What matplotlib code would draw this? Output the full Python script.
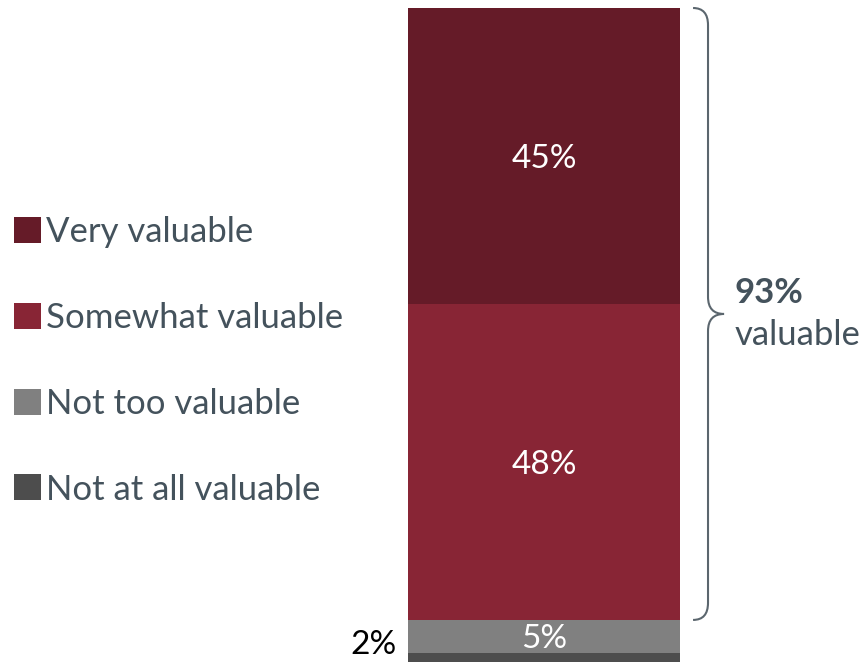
import matplotlib
matplotlib.use("Agg")
import matplotlib.pyplot as plt
from matplotlib.path import Path
from matplotlib.patches import PathPatch
from matplotlib.transforms import blended_transform_factory

plt.rcParams['font.family'] = ['Lato', 'DejaVu Sans']

# stacking order: bottom to top
categories = ["Not at all valuable", "Not too valuable", "Somewhat valuable", "Very valuable"]
values = [2, 5, 48, 45]
colors = ["#4d4d4d", "#808080", "#882535", "#651b28"]
value_labels = ["2%", "5%", "48%", "45%"]
total_label = "93%"
total_text = "valuable"

text_color = "#44525c"

fig = plt.figure(figsize=(8.62, 6.62), dpi=100)
ax = fig.add_axes([408 / 862, -4 / 662, 272 / 862, 658 / 662])

bottom = 0
bars = []
for cat, val, col, lab in zip(categories, values, colors, value_labels):
    b = ax.bar(0, val, bottom=bottom, width=1.0, color=col, label=cat)
    bars.append(b)
    if val >= 5:
        ax.text(0, bottom + val / 2, lab, ha='center', va='center_baseline',
                color='white', fontsize=24)
    else:
        # too thin to hold its label, so put it beside the bar
        ax.text(-0.54, bottom + val / 2 + 2.6, lab, ha='right', va='center_baseline',
                color='black', fontsize=24)
    bottom += val

ax.set_xlim(-0.5, 0.5)
ax.set_ylim(0, 100)
ax.axis('off')

# curly brace over the two "valuable" segments
lo = values[0] + values[1]
hi = sum(values)
mid = (lo + hi) / 2
x0, x1, x2 = 1.048, 1.103, 1.162
r = 2.6
verts = [(x0, hi), (x1, hi), (x1, hi - r),
         (x1, mid + r),
         (x1, mid), (x2, mid),
         (x1, mid), (x1, mid - r),
         (x1, lo + r),
         (x1, lo), (x0, lo)]
codes = [Path.MOVETO, Path.CURVE3, Path.CURVE3,
         Path.LINETO,
         Path.CURVE3, Path.CURVE3,
         Path.CURVE3, Path.CURVE3,
         Path.LINETO,
         Path.CURVE3, Path.CURVE3]
trans = blended_transform_factory(ax.transAxes, ax.transData)
ax.add_patch(PathPatch(Path(verts, codes), facecolor='none', edgecolor='#5b666e',
                       lw=1.5, transform=trans, clip_on=False))

ax.text(1.202, mid + 3.2, total_label, transform=trans, ha='left', va='center',
        fontsize=25, fontweight='bold', color=text_color)
ax.text(1.202, mid - 3.2, total_text, transform=trans, ha='left', va='center',
        fontsize=25, color=text_color)

handles = [b[0] for b in bars][::-1]
labels = categories[::-1]
fig.legend(handles, labels, loc='center left', bbox_to_anchor=(14 / 862, 0.455),
           frameon=False, fontsize=25, labelcolor=text_color,
           handlelength=0.78, handleheight=0.78, handletextpad=0.14,
           labelspacing=1.55, borderaxespad=0, borderpad=0)

fig.savefig("out.png", dpi=100)
